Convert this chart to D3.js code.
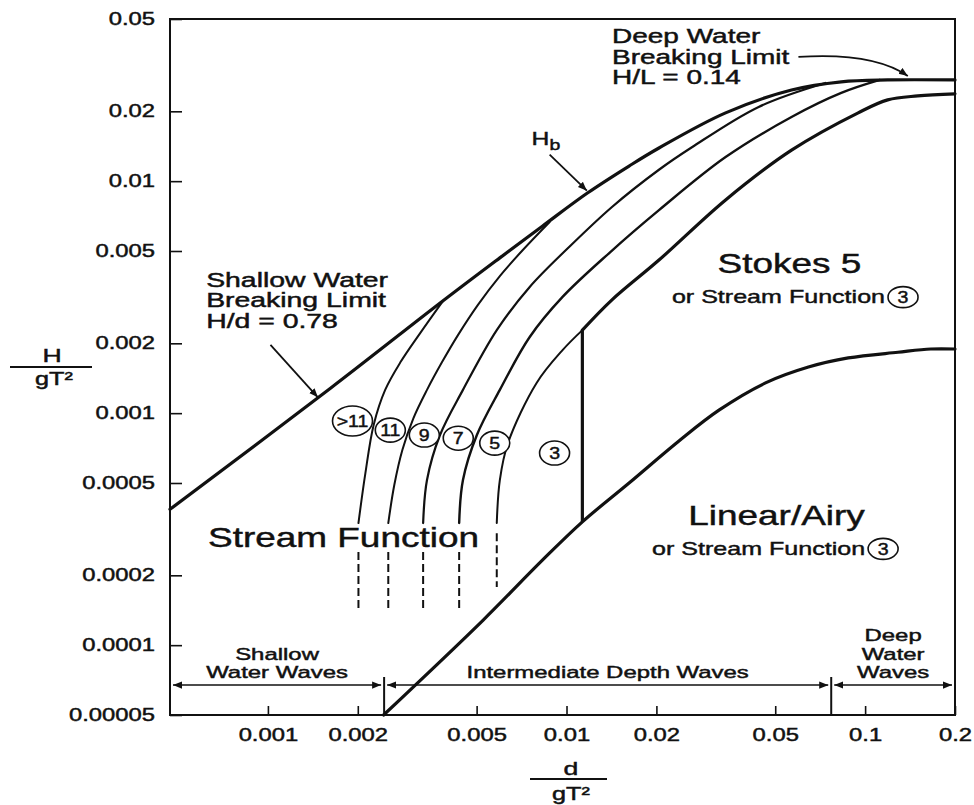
<!DOCTYPE html>
<html>
<head>
<meta charset="utf-8">
<script src="https://d3js.org/d3.v7.min.js"></script>
<style>
 body { margin: 0; background: #fff; }
 text { font-family: "Liberation Sans", Arial, Helvetica, sans-serif; fill: #111; stroke: #111; stroke-width: 0.45px; }
</style>
</head>
<body>
<script>
// tick values and their labels
var xTicks = [0.001, 0.002, 0.005, 0.01, 0.02, 0.05, 0.1, 0.2];
var xTickLabels = ["0.001", "0.002", "0.005", "0.01", "0.02", "0.05", "0.1", "0.2"];
var yTicks = [0.00005, 0.0001, 0.0002, 0.0005, 0.001, 0.002, 0.005, 0.01, 0.02, 0.05];
var yTickLabels = ["0.00005", "0.0001", "0.0002", "0.0005", "0.001", "0.002", "0.005", "0.01", "0.02", "0.05"];

// breaking limit Hb (d/gT^2 , H/gT^2)
var hbD = [0.00047, 0.00162, 0.00386, 0.00598, 0.00832, 0.01175, 0.0162, 0.0204, 0.0341, 0.0567, 0.0832, 0.119, 0.2];
var hbH = [0.000385, 0.00128, 0.00305, 0.00467, 0.00641, 0.00889, 0.01162, 0.0139, 0.0197, 0.0247, 0.0268, 0.0273, 0.0273];

// stream function order boundaries (solid part)
var c1D = [0.00201, 0.00212, 0.00226, 0.00247, 0.00278, 0.00324, 0.00386];
var c1H = [0.000336, 0.00055, 0.00089, 0.00126, 0.00166, 0.00222, 0.00305];
var c2D = [0.00253, 0.00265, 0.00282, 0.00307, 0.00341, 0.00383, 0.00433, 0.00505, 0.00598, 0.00714, 0.00878];
var c2H = [0.000336, 0.00049, 0.000694, 0.00095, 0.00126, 0.00166, 0.00217, 0.00293, 0.0039, 0.00505, 0.00667];
var c3D = [0.00331, 0.00341, 0.00377, 0.0045, 0.00584, 0.00753, 0.0102, 0.0142, 0.0204, 0.0263, 0.044, 0.0736];
var c3H = [0.000336, 0.000515, 0.000805, 0.00126, 0.00228, 0.0035, 0.0052, 0.00774, 0.0112, 0.014, 0.0209, 0.0265];
var c4D = [0.00437, 0.0045, 0.00501, 0.00598, 0.00753, 0.0097, 0.0139, 0.0204, 0.0341, 0.0567, 0.0832, 0.112];
var c4H = [0.000336, 0.000515, 0.000805, 0.00126, 0.00213, 0.00317, 0.0049, 0.0075, 0.0127, 0.0189, 0.024, 0.0273];
var c5D = [0.00584, 0.00598, 0.00636, 0.00794, 0.0097, 0.0113];
var c5H = [0.000336, 0.000515, 0.00074, 0.00135, 0.00187, 0.00228];

// dashed continuations below the solid parts
var dashD = [0.00201, 0.00253, 0.00331, 0.00437, 0.00584];
var dashTop = [0.000252, 0.000252, 0.000252, 0.000252, 0.000304];
var dashBottom = [0.000142, 0.000142, 0.000142, 0.000142, 0.000178];

// Stokes 5 upper limit
var stokesD = [0.0113, 0.0142, 0.0204, 0.0341, 0.0567, 0.0948, 0.119, 0.15, 0.2];
var stokesH = [0.00228, 0.00308, 0.00457, 0.0083, 0.0136, 0.0197, 0.0224, 0.0233, 0.0238];
// vertical Stokes / stream function 3 limit
var stokesLimitD = 0.0113;
var stokesLimitH = [0.00034, 0.00228];

// linear / Airy limit
var linD = [0.00244, 0.00525, 0.00832, 0.0113, 0.0162, 0.0238, 0.0324, 0.0464, 0.0646, 0.0878, 0.1288, 0.166, 0.2];
var linH = [0.00005, 0.000128, 0.000233, 0.00034, 0.0005, 0.000759, 0.00103, 0.00135, 0.00158, 0.00173, 0.00183, 0.00189, 0.00189];

// circled stream function orders
var orderLabels = [">11", "11", "9", "7", "5", "3"];
var orderD = [0.00192, 0.00257, 0.00334, 0.00434, 0.00575, 0.00912];
var orderH = [0.000925, 0.000845, 0.000805, 0.00078, 0.000743, 0.000673];

// depth bands along the bottom
var bandEdges = [0.00047, 0.00245, 0.077, 0.2];
var bandNames = [["Shallow", "Water Waves"], ["Intermediate Depth Waves"], ["Deep", "Water", "Waves"]];
var bandLevel = 0.0000673, bandTickTop = 0.0000729;

var width = 974, height = 805;
var x = d3.scaleLog().domain([0.00047, 0.2]).range([170, 955]);
var y = d3.scaleLog().domain([0.00005, 0.05]).range([715, 19]);
var ink = "#111";

var svg = d3.select("body").append("svg")
 .attr("width", width)
 .attr("height", height)
 .style("background", "#fff");

svg.append("defs").append("marker")
 .attr("id", "arrow")
 .attr("viewBox", "0 0 10 10")
 .attr("refX", 10).attr("refY", 5)
 .attr("markerWidth", 9).attr("markerHeight", 9)
 .attr("markerUnits", "userSpaceOnUse")
 .attr("orient", "auto-start-reverse")
 .append("path").attr("d", "M0,1 L10,5 L0,9 z").attr("fill", ink);

// text squeezed into the stretched look of the original
function label(px, py, str, size, sx, anchor) {
 return svg.append("text")
  .attr("transform", "translate(" + px + "," + py + ") scale(" + sx + ",1)")
  .attr("text-anchor", anchor || "start")
  .attr("font-size", size)
  .text(str);
}

// axes
var yAxis = d3.axisLeft(y).tickValues(yTicks)
 .tickFormat(function(d) { return yTickLabels[yTicks.indexOf(d)]; })
 .tickSizeInner(-12).tickSizeOuter(0).tickPadding(15);
var gy = svg.append("g").attr("transform", "translate(" + x.range()[0] + ",0)").call(yAxis);
gy.select(".domain").remove();
gy.selectAll("line").attr("stroke", ink).attr("stroke-width", 1.6);
gy.selectAll("text").attr("font-size", 17.5).attr("fill", ink)
 .attr("x", -15 / 1.36).attr("transform", "scale(1.36,1)");

var xAxis = d3.axisBottom(x).tickValues(xTicks)
 .tickFormat(function(d) { return xTickLabels[xTicks.indexOf(d)]; })
 .tickSizeInner(-9).tickSizeOuter(0).tickPadding(14);
var gx = svg.append("g").attr("transform", "translate(0," + y.range()[0] + ")").call(xAxis);
gx.select(".domain").remove();
gx.selectAll("line").attr("stroke", ink).attr("stroke-width", 1.6);
gx.selectAll("text").attr("font-size", 17.5).attr("fill", ink).attr("transform", "scale(1.36,1)")
 .attr("x", 0);

// frame
svg.append("rect")
 .attr("x", x.range()[0]).attr("y", y.range()[1])
 .attr("width", x.range()[1] - x.range()[0])
 .attr("height", y.range()[0] - y.range()[1])
 .attr("fill", "none").attr("stroke", ink).attr("stroke-width", 2);

// axis titles as fractions
label(52, 362, "H", 19, 1.4, "middle");
svg.append("line").attr("x1", 10).attr("x2", 92).attr("y1", 367).attr("y2", 367).attr("stroke", ink).attr("stroke-width", 2);
label(54, 385, "gT\u00b2", 18, 1.4, "middle");
label(571, 775, "d", 19, 1.4, "middle");
svg.append("line").attr("x1", 530).attr("x2", 607).attr("y1", 779).attr("y2", 779).attr("stroke", ink).attr("stroke-width", 2);
label(571, 800, "gT\u00b2", 18, 1.4, "middle");

// curves
var line = d3.line()
 .x(function(p) { return x(p[0]); })
 .y(function(p) { return y(p[1]); })
 .curve(d3.curveCatmullRom.alpha(0.5));

function curve(ds, hs, w) {
 svg.append("path")
  .attr("d", line(d3.zip(ds, hs)))
  .attr("fill", "none").attr("stroke", ink)
  .attr("stroke-width", w).attr("stroke-linejoin", "round").attr("stroke-linecap", "round");
}
curve(c1D, c1H, 2);
curve(c2D, c2H, 2);
curve(c3D, c3H, 2.2);
curve(c4D, c4H, 2.4);
curve(c5D, c5H, 2);
curve(hbD, hbH, 3.2);
curve(stokesD, stokesH, 3.2);
curve(linD, linH, 3.2);

svg.append("line")
 .attr("x1", x(stokesLimitD)).attr("x2", x(stokesLimitD))
 .attr("y1", y(stokesLimitH[0])).attr("y2", y(stokesLimitH[1]))
 .attr("stroke", ink).attr("stroke-width", 3.2);

svg.selectAll(".dash").data(dashD).enter().append("line")
 .attr("x1", function(d) { return x(d); }).attr("x2", function(d) { return x(d); })
 .attr("y1", function(d, i) { return y(dashTop[i]); })
 .attr("y2", function(d, i) { return y(dashBottom[i]); })
 .attr("stroke", ink).attr("stroke-width", 2).attr("stroke-dasharray", "8,4");

// circled orders
var orders = svg.selectAll(".order").data(orderLabels).enter().append("g")
 .attr("transform", function(d, i) { return "translate(" + x(orderD[i]) + "," + y(orderH[i]) + ")"; });
orders.append("ellipse")
 .attr("rx", function(d) { return d.length > 2 ? 20 : 15; })
 .attr("ry", function(d) { return d.length > 2 ? 15 : 12; })
 .attr("fill", "#fff").attr("stroke", ink).attr("stroke-width", 1.6);
orders.append("text")
 .attr("text-anchor", "middle").attr("dy", "0.36em")
 .attr("font-size", 17).attr("transform", "scale(1.15,1)")
 .text(function(d) { return d; });

// region labels
label(x(0.0558), y(0.00402), "Stokes 5", 28, 1.32, "middle");
label(x(0.1166), y(0.00298), "or Stream Function", 19, 1.32, "end");
label(x(0.0505), y(0.00033), "Linear/Airy", 28, 1.32, "middle");
label(x(0.1), y(0.000245), "or Stream Function", 19, 1.32, "end");
[[0.1166, 0.00298], [0.1, 0.000245]].forEach(function(p) {
 var g = svg.append("g").attr("transform", "translate(" + (x(p[0]) + 18) + "," + (y(p[1]) - 6) + ")");
 g.append("ellipse").attr("rx", 15).attr("ry", 10.5).attr("fill", "none").attr("stroke", ink).attr("stroke-width", 1.6);
 g.append("text").attr("text-anchor", "middle").attr("dy", "0.36em").attr("font-size", 17)
  .attr("transform", "scale(1.15,1)").text("3");
});
label(x(0.00063), y(0.000265), "Stream Function", 28, 1.32, "start");

// annotations
["Deep Water", "Breaking Limit", "H/L = 0.14"].forEach(function(s, i) {
 label(x(0.0142), y(0.0394) + i * 20.5, s, 20, 1.4, "start");
});
["Shallow Water", "Breaking Limit", "H/d = 0.78"].forEach(function(s, i) {
 label(x(0.000621), y(0.0035) + i * 20.5, s, 20, 1.42, "start");
});
var hb = label(x(0.00764), y(0.0143), "H", 19, 1.3, "start");
hb.append("tspan").attr("font-size", 15).attr("dy", 5).text("b");

function arrow(p0, p1, ctrl) {
 var d = "M" + x(p0[0]) + "," + y(p0[1]) +
  (ctrl ? " Q" + x(ctrl[0]) + "," + y(ctrl[1]) + " " : " L") + x(p1[0]) + "," + y(p1[1]);
 svg.append("path").attr("d", d).attr("fill", "none").attr("stroke", ink)
  .attr("stroke-width", 1.8).attr("marker-end", "url(#arrow)");
}
arrow([0.00878, 0.013], [0.0117, 0.0091]);
arrow([0.00102, 0.00197], [0.00147, 0.00117]);
arrow([0.0598, 0.0343], [0.139, 0.0284], [0.1064, 0.036]);

// depth bands
bandEdges.slice(1, 3).forEach(function(e) {
 svg.append("line").attr("x1", x(e)).attr("x2", x(e))
  .attr("y1", y(bandTickTop)).attr("y2", y.range()[0])
  .attr("stroke", ink).attr("stroke-width", 2);
});
bandNames.forEach(function(names, i) {
 var a = bandEdges[i], b = bandEdges[i + 1];
 svg.append("line")
  .attr("x1", x(a) + 3).attr("x2", x(b) - 3)
  .attr("y1", y(bandLevel)).attr("y2", y(bandLevel))
  .attr("stroke", ink).attr("stroke-width", 1.6)
  .attr("marker-start", "url(#arrow)").attr("marker-end", "url(#arrow)");
 var cx = x(Math.sqrt(a * b));
 names.forEach(function(s, j) {
  label(cx, y(bandLevel) - 7 - (names.length - 1 - j) * 18.5, s, 16.5, 1.45, "middle");
 });
});
</script>
</body>
</html>
